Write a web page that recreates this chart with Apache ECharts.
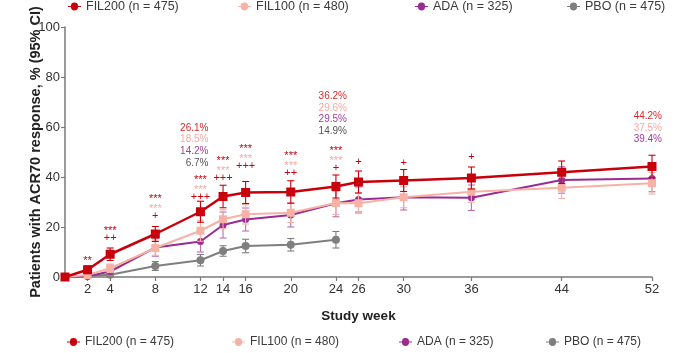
<!DOCTYPE html>
<html>
<head>
<meta charset="utf-8">
<script src="https://cdn.jsdelivr.net/npm/echarts@6/dist/echarts.min.js"></script>
<style>
  html, body { margin: 0; padding: 0; background: #fff; }
  #chart { width: 685px; height: 353px; }
</style>
</head>
<body>
<div id="chart"></div>
<script>
// Study weeks at which ACR70 response was assessed
const weeks = [0, 2, 4, 8, 12, 14, 16, 20, 24, 26, 30, 36, 44, 52];
const pboWeeks = [0, 2, 4, 8, 12, 14, 16, 20, 24];
const tickWeeks = [2, 4, 8, 12, 14, 16, 20, 24, 26, 30, 36, 44, 52];

// Response rates (%) per arm
const fil200 = [0, 2.9, 9.1, 17.2, 26.1, 32.2, 33.8, 34.0, 36.2, 38.0, 38.6, 39.6, 41.9, 44.2];
const fil100 = [0, 0.8, 3.5, 11.6, 18.5, 23.1, 25.1, 25.7, 29.6, 29.5, 31.9, 34.1, 35.7, 37.5];
const ada    = [0, 0.3, 2.2, 11.8, 14.2, 20.8, 23.0, 24.8, 29.5, 31.0, 31.9, 31.7, 38.8, 39.4];
const pbo    = [0, 0.4, 0.9, 4.4, 6.7, 10.4, 12.4, 12.9, 14.9];

// 95% CI half-widths (percentage points)
const fil200Ci = [0, 1.5, 2.5, 3.0, 4.2, 4.5, 4.4, 4.5, 4.6, 4.4, 4.4, 4.4, 4.5, 4.5];
const fil100Ci = [0, 0.8, 1.7, 2.9, 4.2, 3.8, 3.9, 3.9, 4.6, 4.1, 4.2, 4.2, 4.3, 4.3];
const adaCi    = [0, 0.6, 1.6, 3.5, 4.2, 5.2, 4.6, 4.8, 5.4, 5.0, 5.1, 5.1, 5.3, 5.3];
const pboCi    = [0, 0.6, 0.9, 1.8, 2.3, 2.1, 2.7, 2.5, 3.3];

// Significance symbols: *** vs PBO, + vs ADA
const sigWeeks     = [2, 4, 8, 12, 14, 16, 20, 24, 26, 30, 36];
const sig200vsPbo  = ['**', '***', '***', '***', '***', '***', '***', '***', '', '', ''];
const sig100vsPbo  = ['', '', '***', '***', '***', '***', '***', '***', '', '', ''];
const sig200vsAda  = ['', '++', '+', '+++', '+++', '+++', '++', '+', '+', '+', '+'];

// Weeks with printed response rates
const calloutWeeks = [12, 24, 52];

const names = ['FIL200 (n = 475)', 'FIL100 (n = 480)', 'ADA (n = 325)', 'PBO (n = 475)'];
const colors = { fil200: '#c8000c', fil100: '#f7b2a6', ada: '#9a2b92', pbo: '#7f7f7f' };
const labelColors = { fil200: '#d42a2a', fil100: '#f6aaa0', ada: '#a23c9c', pbo: '#555555' };
const FONT = '"Liberation Sans", Arial, sans-serif';

// layout of the annotation stacks (bottom-row height in axis units)
const sigBase = [7.6, 15.5, 24.4, 32.1, 39.5, 44.4, 41.7, 43.5, 46.0, 45.8, 48.0];
const calloutTop = [59.7, 72.4, 64.4];
const calloutDx = [8, 11, 10];

function pairs(xs, ys) { return xs.map((x, i) => [x, ys[i]]); }
function ciRows(xs, ys, hw) { return xs.map((x, i) => [x, ys[i] - hw[i], ys[i] + hw[i]]); }

function errorBarSeries(name, xs, ys, hw, color, z) {
  return {
    type: 'custom',
    name: name + ' CI',
    z: z,
    silent: true,
    encode: { x: 0, y: [1, 2] },
    data: ciRows(xs, ys, hw),
    renderItem: function (params, api) {
      const x = api.value(0);
      const top = api.coord([x, api.value(2)]);
      const bot = api.coord([x, api.value(1)]);
      const cap = 3.5;
      const st = { stroke: color, lineWidth: 1.1, fill: null };
      return {
        type: 'group',
        children: [
          { type: 'line', shape: { x1: top[0], y1: top[1], x2: bot[0], y2: bot[1] }, style: st },
          { type: 'line', shape: { x1: top[0] - cap, y1: top[1], x2: top[0] + cap, y2: top[1] }, style: st },
          { type: 'line', shape: { x1: bot[0] - cap, y1: bot[1], x2: bot[0] + cap, y2: bot[1] }, style: st }
        ]
      };
    }
  };
}

function lineSeries(name, xs, ys, color, symbol, size, width, z) {
  return {
    type: 'line',
    name: name,
    z: z,
    data: pairs(xs, ys),
    symbol: symbol,
    symbolSize: size,
    showAllSymbol: true,
    lineStyle: { color: color, width: width },
    itemStyle: { color: color, borderWidth: 0 },
    emphasis: { disabled: true },
    animation: false
  };
}

const sigSeries = {
  type: 'custom',
  name: 'significance',
  z: 20,
  silent: true,
  data: sigWeeks.map((w, i) => [w, sigBase[i]]),
  renderItem: function (params, api) {
    const i = params.dataIndex;
    const p = api.coord([api.value(0), api.value(1)]);
    const rows = [
      [sig200vsAda[i], colors.fil200, false],
      [sig100vsPbo[i], labelColors.fil100, true],
      [sig200vsPbo[i], colors.fil200, true]
    ].filter(r => r[0]);
    return {
      type: 'group',
      children: rows.map((r, k) => ({
        type: 'text',
        style: {
          x: p[0], y: p[1] - k * 10 + (r[2] ? 3 : 0),
          text: r[0], fill: r[1],
          font: '11px ' + FONT,
          align: 'center', verticalAlign: 'middle'
        }
      }))
    };
  }
};

const calloutSeries = {
  type: 'custom',
  name: 'callouts',
  z: 20,
  silent: true,
  data: calloutWeeks.map((w, i) => [w, calloutTop[i]]),
  renderItem: function (params, api) {
    const i = params.dataIndex;
    const w = calloutWeeks[i];
    const p = api.coord([api.value(0), api.value(1)]);
    const idx = weeks.indexOf(w);
    const vals = [[fil200[idx], labelColors.fil200], [fil100[idx], labelColors.fil100], [ada[idx], labelColors.ada]];
    const pi = pboWeeks.indexOf(w);
    if (pi >= 0) vals.push([pbo[pi], labelColors.pbo]);
    return {
      type: 'group',
      children: vals.map((v, k) => ({
        type: 'text',
        style: {
          x: p[0] + calloutDx[i], y: p[1] + k * 11.8,
          text: v[0].toFixed(1) + '%', fill: v[1],
          font: '10px ' + FONT, align: 'right', verticalAlign: 'middle'
        }
      }))
    };
  }
};

const legendIcon = 'path://M0,4.4 L3.2,4.4 A3.8,3.6 0 0 1 10.8,4.4 L14,4.4 L14,5.6 L10.8,5.6 A3.8,3.6 0 0 1 3.2,5.6 L0,5.6 Z';
const legendColorKeys = ['fil200', 'fil100', 'ada', 'pbo'];
function makeLegend(i, left, top, size) {
  return {
    show: true,
    left: left, top: top,
    orient: 'horizontal',
    selectedMode: false,
    itemWidth: 13, itemHeight: 8,
    itemGap: 0,
    padding: 0,
    data: [{ name: names[i], icon: legendIcon, itemStyle: { color: colors[legendColorKeys[i]] } }],
    textStyle: { fontFamily: FONT, fontSize: size, color: '#3a3a3a' }
  };
}
const topLefts = [68, 238, 415, 567];
const botLefts = [67, 232, 399, 546];
const legends = [];
topLefts.forEach((l, i) => legends.push(makeLegend(i, l, 0, 12.5)));
botLefts.forEach((l, i) => legends.push(makeLegend(i, l, 336, 12)));

const chart = echarts.init(document.getElementById('chart'), null, { renderer: 'canvas' });
chart.setOption({
  animation: false,
  backgroundColor: '#ffffff',
  textStyle: { fontFamily: FONT },
  legend: legends,
  grid: { left: 65, right: 33, top: 27, bottom: 76, containLabel: false, outerBoundsMode: 'none' },
  xAxis: {
    type: 'value',
    min: 0, max: 52,
    name: 'Study week',
    nameLocation: 'middle',
    nameGap: 32,
    nameMoveOverlap: false,
    nameTextStyle: { fontFamily: FONT, fontSize: 13.5, fontWeight: 'bold', color: '#222' },
    axisLine: { show: true, lineStyle: { color: '#7a7a7a', width: 1.5 } },
    axisTick: { show: true, length: 4, customValues: tickWeeks, lineStyle: { color: '#7a7a7a', width: 1.2 } },
    axisLabel: { customValues: tickWeeks, fontFamily: FONT, fontSize: 13, color: '#333', margin: 6, hideOverlap: false },
    splitLine: { show: false }
  },
  yAxis: {
    type: 'value',
    min: 0, max: 100, interval: 20,
    name: 'Patients with ACR70 response, % (95% CI)',
    nameLocation: 'middle',
    nameGap: 22,
    nameMoveOverlap: false,
    nameTextStyle: { fontFamily: FONT, fontSize: 14.5, fontWeight: 'bold', color: '#222' },
    axisLine: { show: true, lineStyle: { color: '#7a7a7a', width: 1.5 } },
    axisTick: { show: true, length: 4, lineStyle: { color: '#7a7a7a', width: 1.2 } },
    axisLabel: { fontFamily: FONT, fontSize: 13, color: '#333', margin: 5 },
    splitLine: { show: false }
  },
  series: [
    errorBarSeries(names[3], pboWeeks, pbo, pboCi, colors.pbo, 2),
    lineSeries(names[3], pboWeeks, pbo, colors.pbo, 'circle', 8, 2, 3),
    errorBarSeries(names[2], weeks, ada, adaCi, '#b86fb2', 4),
    lineSeries(names[2], weeks, ada, colors.ada, 'circle', 7, 2, 5),
    errorBarSeries(names[1], weeks, fil100, fil100Ci, colors.fil100, 6),
    lineSeries(names[1], weeks, fil100, colors.fil100, 'rect', 8, 2, 7),
    errorBarSeries(names[0], weeks, fil200, fil200Ci, colors.fil200, 8),
    lineSeries(names[0], weeks, fil200, colors.fil200, 'rect', 9, 2.5, 9),
    sigSeries,
    calloutSeries
  ]
});
</script>
</body>
</html>
